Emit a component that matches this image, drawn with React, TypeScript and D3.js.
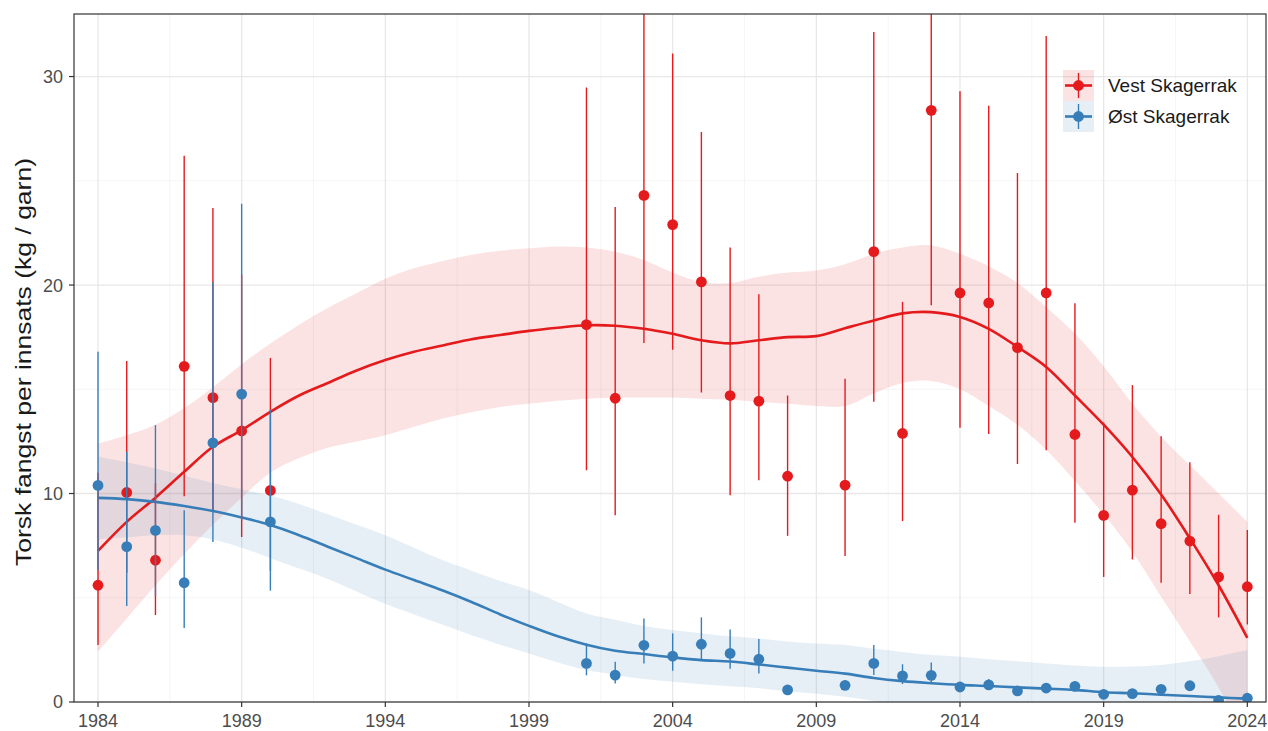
import React from 'react';
import * as d3 from 'd3';

// observed years (2009 has no survey)
const years = [1984, 1985, 1986, 1987, 1988, 1989, 1990, 2001, 2002, 2003, 2004, 2005, 2006, 2007, 2008, 2010, 2011, 2012, 2013, 2014, 2015, 2016, 2017, 2018, 2019, 2020, 2021, 2022, 2023, 2024];

const vestMean = [5.6, 10.05, 6.8, 16.1, 14.6, 13.0, 10.15, 18.1, 14.57, 24.3, 22.9, 20.15, 14.7, 14.43, 10.83, 10.4, 21.6, 12.88, 28.38, 19.62, 19.14, 17.0, 19.62, 12.83, 8.95, 10.16, 8.55, 7.72, 6.0, 5.53];
const vestLow = [2.73, 6.2, 4.17, 9.87, 9.2, 7.92, 6.3, 11.12, 8.96, 17.22, 16.9, 14.85, 9.92, 10.64, 7.97, 7.0, 14.4, 8.68, 19.03, 13.15, 12.86, 11.41, 12.08, 8.6, 6.0, 6.84, 5.72, 5.18, 4.06, 3.72];
const vestHigh = [11.0, 16.36, 10.5, 26.2, 23.7, 20.5, 16.5, 29.48, 23.74, 36, 31.1, 27.34, 21.8, 19.56, 14.7, 15.5, 32.14, 19.19, 38, 29.3, 28.6, 25.37, 31.94, 19.13, 13.4, 15.2, 12.75, 11.5, 8.98, 8.25];

const ostMean = [10.39, 7.45, 8.23, 5.72, 12.43, 14.77, 8.64, 1.85, 1.29, 2.72, 2.2, 2.77, 2.33, 2.05, 0.58, 0.8, 1.85, 1.25, 1.28, 0.72, 0.82, 0.53, 0.67, 0.75, 0.37, 0.4, 0.61, 0.78, 0.08, 0.18];
const ostLow = [6.33, 4.6, 5.08, 3.55, 7.68, 8.72, 5.34, 1.28, 0.89, 1.85, 1.5, 2.01, 1.6, 1.37, 0.45, 0.6, 1.29, 0.86, 0.9, 0.55, 0.6, 0.4, 0.5, 0.55, 0.28, 0.3, 0.45, 0.6, 0.03, 0.1];
const ostHigh = [16.8, 12.0, 13.28, 9.2, 20.15, 23.9, 14.0, 2.81, 1.93, 4.01, 3.29, 4.06, 3.48, 3.02, 0.75, 1.05, 2.73, 1.81, 1.9, 0.95, 1.1, 0.7, 0.85, 1.0, 0.5, 0.52, 0.8, 1.0, 0.15, 0.28];

// smoothed trend (loess) with confidence band, read per year
const fitYears = [1984, 1985, 1986, 1987, 1988, 1989, 1990, 1991, 1992, 1993, 1994, 1995, 1996, 1997, 1998, 1999, 2000, 2001, 2002, 2003, 2004, 2005, 2006, 2007, 2008, 2009, 2010, 2011, 2012, 2013, 2014, 2015, 2016, 2017, 2018, 2019, 2020, 2021, 2022, 2023, 2024];
const vestFit = [7.25, 8.64, 9.8, 11.04, 12.24, 13.04, 13.92, 14.7, 15.3, 15.9, 16.4, 16.8, 17.1, 17.4, 17.6, 17.8, 17.95, 18.07, 18.05, 17.9, 17.66, 17.35, 17.2, 17.35, 17.5, 17.55, 17.93, 18.3, 18.64, 18.7, 18.47, 17.9, 17.03, 16.07, 14.7, 13.3, 11.75, 9.95, 7.85, 5.6, 3.08];
const vestFitHigh = [12.4, 12.8, 13.3, 14.1, 15.1, 16.2, 17.2, 18.1, 18.9, 19.6, 20.3, 20.8, 21.15, 21.45, 21.65, 21.76, 21.85, 21.8, 21.6, 21.2, 20.6, 20.15, 20.1, 20.4, 20.6, 20.7, 21.0, 21.5, 21.8, 21.9, 21.5, 20.9, 20.1, 18.95, 17.67, 16.1, 14.3, 12.72, 11.35, 10.0, 8.64];
const vestFitLow = [2.4, 4.0, 5.6, 7.1, 8.5, 9.8, 11.0, 11.7, 12.2, 12.5, 12.8, 13.2, 13.6, 13.9, 14.15, 14.3, 14.45, 14.55, 14.6, 14.6, 14.6, 14.55, 14.5, 14.4, 14.3, 14.2, 14.2, 14.8, 15.3, 15.4, 15.0, 14.2, 13.3, 12.1, 10.6, 9.0, 7.2, 5.05, 2.9, 0.7, -1.9];
const ostFit = [9.79, 9.73, 9.6, 9.4, 9.16, 8.85, 8.49, 8.0, 7.45, 6.9, 6.35, 5.85, 5.35, 4.8, 4.2, 3.65, 3.15, 2.75, 2.46, 2.3, 2.14, 2.01, 1.94, 1.8, 1.65, 1.5, 1.36, 1.15, 1.0, 0.9, 0.82, 0.77, 0.7, 0.64, 0.58, 0.47, 0.42, 0.35, 0.29, 0.22, 0.16];
const ostFitHigh = [11.76, 11.5, 11.2, 10.85, 10.5, 10.2, 9.9, 9.5, 9.0, 8.5, 8.0, 7.4, 6.8, 6.3, 5.8, 5.37, 4.8, 4.25, 3.95, 3.65, 3.45, 3.3, 3.15, 3.05, 2.9, 2.8, 2.73, 2.55, 2.4, 2.25, 2.17, 2.05, 1.95, 1.85, 1.75, 1.69, 1.7, 1.77, 1.95, 2.2, 2.49];
const ostFitLow = [7.8, 7.9, 8.0, 8.0, 7.8, 7.4, 6.9, 6.4, 5.9, 5.3, 4.7, 4.2, 3.7, 3.2, 2.75, 2.33, 1.9, 1.53, 1.3, 1.1, 0.97, 0.85, 0.75, 0.66, 0.5, 0.4, 0.25, 0.05, -0.15, -0.3, -0.45, -0.55, -0.65, -0.7, -0.75, -0.8, -0.85, -1.0, -1.3, -1.7, -2.2];

const xTicks = [1984, 1989, 1994, 1999, 2004, 2009, 2014, 2019, 2024];
const xMinor = [1986.5, 1991.5, 1996.5, 2001.5, 2006.5, 2011.5, 2016.5, 2021.5];
const yTicks = [0, 10, 20, 30];
const yMinor = [5, 15, 25];

const seriesNames = ['Vest Skagerrak', 'Øst Skagerrak'];
const seriesColors = ['#E41A1C', '#377EB8'];

const W = 1268;
const H = 731;
const margin = { left: 74, right: 2, top: 14, bottom: 29 };
const font = '"Liberation Sans", Arial, sans-serif';

export default function App() {
  const x = d3.scaleLinear().domain([1983.165, 2024.65]).range([margin.left, W - margin.right]);
  const y = d3.scaleLinear().domain([0, 33]).range([H - margin.bottom, margin.top]);

  const series = [
    { mean: vestMean, low: vestLow, high: vestHigh, fit: vestFit, fLow: vestFitLow, fHigh: vestFitHigh },
    { mean: ostMean, low: ostLow, high: ostHigh, fit: ostFit, fLow: ostFitLow, fHigh: ostFitHigh },
  ];

  const area = (lo: number[], hi: number[]) =>
    d3.area<number>()
      .x((d) => x(d))
      .y0((_, i) => y(lo[i]))
      .y1((_, i) => y(hi[i]))
      .curve(d3.curveCatmullRom)(fitYears) || '';

  const line = (v: number[]) =>
    d3.line<number>()
      .x((d) => x(d))
      .y((_, i) => y(v[i]))
      .curve(d3.curveCatmullRom)(fitYears) || '';

  const x0 = margin.left;
  const x1 = W - margin.right;
  const y0 = H - margin.bottom;
  const y1 = margin.top;

  return (
    <svg width={W} height={H} style={{ position: 'absolute', left: 0, top: 0, background: '#fff' }} fontFamily={font}>
      <defs>
        <clipPath id="panel">
          <rect x={x0} y={y1} width={x1 - x0} height={y0 - y1} />
        </clipPath>
      </defs>

      {/* grid */}
      <g>
        {xMinor.map((v) => (
          <line key={'xm' + v} x1={x(v)} x2={x(v)} y1={y0} y2={y1} stroke="#f2f2f2" strokeWidth={0.8} />
        ))}
        {yMinor.map((v) => (
          <line key={'ym' + v} x1={x0} x2={x1} y1={y(v)} y2={y(v)} stroke="#f2f2f2" strokeWidth={0.8} />
        ))}
        {xTicks.map((v) => (
          <line key={'xg' + v} x1={x(v)} x2={x(v)} y1={y0} y2={y1} stroke="#e8e8e8" strokeWidth={1.3} />
        ))}
        {yTicks.map((v) => (
          <line key={'yg' + v} x1={x0} x2={x1} y1={y(v)} y2={y(v)} stroke="#e8e8e8" strokeWidth={1.3} />
        ))}
      </g>

      <g clipPath="url(#panel)">
        {series.map((s, k) => (
          <path key={'rib' + k} d={area(s.fLow, s.fHigh)} fill={seriesColors[k]} fillOpacity={0.12} />
        ))}
        {series.map((s, k) => (
          <path key={'fit' + k} d={line(s.fit)} fill="none" stroke={seriesColors[k]} strokeWidth={2.6} />
        ))}
        {series.map((s, k) => (
          <g key={'pr' + k}>
            {years.map((yr, i) => (
              <line key={yr} x1={x(yr)} x2={x(yr)} y1={y(s.low[i])} y2={y(s.high[i])} stroke={seriesColors[k]} strokeWidth={1.4} />
            ))}
            {years.map((yr, i) => (
              <circle key={'c' + yr} cx={x(yr)} cy={y(s.mean[i])} r={5.4} fill={seriesColors[k]} />
            ))}
          </g>
        ))}
      </g>

      {/* panel border */}
      <rect x={x0} y={y1} width={x1 - x0} height={y0 - y1} fill="none" stroke="#333" strokeWidth={1.2} />

      {/* axes */}
      {xTicks.map((v) => (
        <g key={'xt' + v}>
          <line x1={x(v)} x2={x(v)} y1={y0} y2={y0 + 5} stroke="#333" strokeWidth={1.2} />
          <text x={x(v)} y={y0 + 25} textAnchor="middle" fontSize={18} fill="#4d4d4d">{v}</text>
        </g>
      ))}
      {yTicks.map((v) => (
        <g key={'yt' + v}>
          <line x1={x0 - 5} x2={x0} y1={y(v)} y2={y(v)} stroke="#333" strokeWidth={1.2} />
          <text x={x0 - 11} y={y(v)} dy="0.36em" textAnchor="end" fontSize={18} fill="#4d4d4d">{v}</text>
        </g>
      ))}
      <text
        transform={`translate(31,${(y0 + y1) / 2 + 4}) rotate(-90)`}
        textAnchor="middle"
        fontSize={22}
        textLength={408}
        lengthAdjust="spacingAndGlyphs"
        fill="#1a1a1a"
      >
        Torsk fangst per innsats (kg / garn)
      </text>

      {/* legend */}
      <g transform="translate(1063,70)">
        {seriesNames.map((name, k) => (
          <g key={name} transform={`translate(0,${k * 31})`}>
            <rect width={31} height={31} fill={seriesColors[k]} fillOpacity={0.12} />
            <line x1={2} x2={29} y1={15.5} y2={15.5} stroke={seriesColors[k]} strokeWidth={2.6} />
            <line x1={15.5} x2={15.5} y1={3} y2={28} stroke={seriesColors[k]} strokeWidth={1.4} />
            <circle cx={15.5} cy={15.5} r={5.4} fill={seriesColors[k]} />
            <text x={45} y={15.5} dy="0.35em" fontSize={19} fill="#1a1a1a">{name}</text>
          </g>
        ))}
      </g>
    </svg>
  );
}
